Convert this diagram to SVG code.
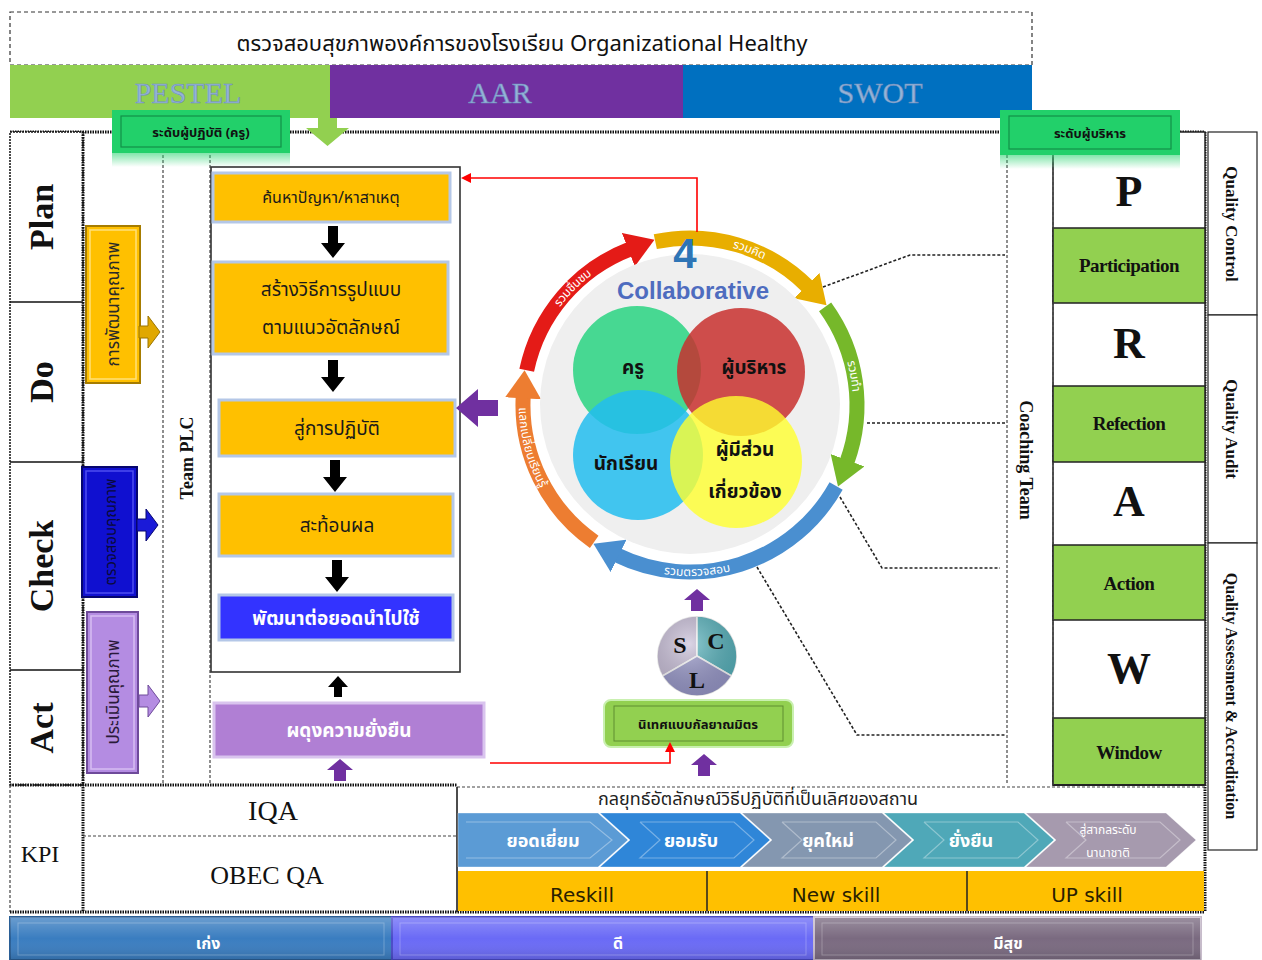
<svg xmlns="http://www.w3.org/2000/svg" width="1262" height="960" viewBox="0 0 1262 960">
<defs>
<style>
.th{font-family:"Noto Sans Thai","Leelawadee UI",Tahoma,"DejaVu Sans","Noto Sans",sans-serif}
.sans{font-family:"Liberation Sans",Arial,"Noto Sans Thai",sans-serif}
.sf{font-family:"Liberation Serif","Times New Roman",serif;font-weight:bold}
.dv{font-family:"DejaVu Sans",Verdana,sans-serif}
.thick{stroke:#111;stroke-width:3;stroke-dasharray:1.5 1;fill:none}
.dash{stroke:#444;stroke-width:1.2;stroke-dasharray:3 2;fill:none}
.conn{stroke:#222;stroke-width:1.6;stroke-dasharray:3 2;fill:none}
.ybox{fill:#FFC000;stroke:#B4C7E7;stroke-width:3}
.lbl{font-size:19px;text-anchor:middle;fill:#1a1a1a}
.wl{fill:#fff;font-weight:bold;text-anchor:middle}
.arc{fill:none;stroke-width:15}
.arclbl{font-size:12px;fill:#fff}
.praw{font-size:44px;text-anchor:middle}
.pgreen{fill:#92D050;stroke:#222;stroke-width:1.5}
.pword{font-size:19px;text-anchor:middle;letter-spacing:-0.5px}
.qtxt{font-size:17px;text-anchor:middle}
.chev{stroke:#fff;stroke-opacity:.35;stroke-width:1}
.chin{fill:none;stroke:#fff;stroke-opacity:.35;stroke-width:1.2}
.ctext{font-size:18px;fill:#fff;font-weight:bold;text-anchor:middle}
</style>
<marker id="mRed" markerUnits="userSpaceOnUse" markerWidth="30" markerHeight="36" refX="2" refY="18" orient="auto"><path d="M0,0 L28,18 L0,36 z" fill="#E41B17"/></marker>
<marker id="mGold" markerUnits="userSpaceOnUse" markerWidth="30" markerHeight="36" refX="2" refY="18" orient="auto"><path d="M0,0 L28,18 L0,36 z" fill="#E8AE00"/></marker>
<marker id="mGreen" markerUnits="userSpaceOnUse" markerWidth="30" markerHeight="36" refX="2" refY="18" orient="auto"><path d="M0,0 L28,18 L0,36 z" fill="#76B82A"/></marker>
<marker id="mBlue" markerUnits="userSpaceOnUse" markerWidth="30" markerHeight="36" refX="2" refY="18" orient="auto"><path d="M0,0 L28,18 L0,36 z" fill="#4A8FD0"/></marker>
<marker id="mOrange" markerUnits="userSpaceOnUse" markerWidth="30" markerHeight="36" refX="2" refY="18" orient="auto"><path d="M0,0 L28,18 L0,36 z" fill="#ED7D31"/></marker>
<marker id="mLine" markerUnits="userSpaceOnUse" markerWidth="10" markerHeight="10" refX="8" refY="5" orient="auto"><path d="M0,0 L10,5 L0,10 z" fill="#F00"/></marker>
<path id="tpRed" d="M531.2,353.4 A167,167 0 0 1 638.4,246.2"/>
<path id="tpGold" d="M672.5,238.9 A167,167 0 0 1 814.1,293.3"/>
<path id="tpGreen" d="M826.8,309.2 A167,167 0 0 1 851.3,448.2"/>
<path id="tpBlue" d="M606.5,549.6 A167,167 0 0 0 785.8,541.8"/>
<path id="tpOrange" d="M528.7,361.8 A167,167 0 0 0 571.9,523.1"/>
<path id="dArrow" d="M-5,0 H5 V17 H12 L0,32 L-12,17 H-5 Z"/>
<path id="uArrowP" d="M-6,22 H6 V11 H13 L0,0 L-13,11 H-6 Z"/>
<path id="rArrow" d="M0,-6 H9 V-16 L21,0 L9,16 V6 H0 Z"/>
<linearGradient id="gBand" x1="0" y1="0" x2="0" y2="1"><stop offset="0" stop-color="#fff" stop-opacity=".25"/><stop offset=".5" stop-color="#fff" stop-opacity="0"/><stop offset="1" stop-color="#000" stop-opacity=".15"/></linearGradient>
<linearGradient id="gFade" x1="0" y1="0" x2="0" y2="1"><stop offset="0" stop-color="#2ED573" stop-opacity=".6"/><stop offset="1" stop-color="#2ED573" stop-opacity="0"/></linearGradient>
<radialGradient id="gBall" cx=".4" cy=".35" r=".7"><stop offset="0" stop-color="#fff" stop-opacity=".35"/><stop offset="1" stop-color="#000" stop-opacity=".15"/></radialGradient>
</defs>

<rect width="1262" height="960" fill="#fff"/>

<!-- header -->
<g id="header">
<rect x="10" y="12" width="1022" height="53" fill="#fff" stroke="#333" stroke-width="1.2" stroke-dasharray="4 3"/>
<text x="522" y="51" class="th" font-size="22" text-anchor="middle" fill="#111">ตรวจสอบสุขภาพองค์การของโรงเรียน Organizational Healthy</text>
</g>
<g id="band">
<rect x="10" y="65" width="320" height="53" fill="#92D050"/>
<rect x="330" y="65" width="353" height="53" fill="#7030A0"/>
<rect x="683" y="65" width="349" height="53" fill="#0070C0"/>
<g class="sf" font-size="30" text-anchor="middle" fill="#95B3D7" stroke="#6F8FBF" stroke-width=".6">
<text x="188" y="103" style="font-weight:normal">PESTEL</text>
<text x="500" y="103" style="font-weight:normal">AAR</text>
<text x="880" y="103" style="font-weight:normal">SWOT</text>
</g>
</g>

<!-- frame lines -->
<g id="frame">
<line x1="10" y1="132" x2="1205" y2="132" class="thick"/>
<rect x="10" y="132" width="73" height="653" fill="#fff" stroke="#111" stroke-width="1.5" stroke-dasharray="2 1"/>
<line x1="10" y1="302" x2="83" y2="302" stroke="#111" stroke-width="1.5"/>
<line x1="10" y1="462" x2="83" y2="462" stroke="#111" stroke-width="1.5"/>
<line x1="10" y1="670" x2="83" y2="670" stroke="#111" stroke-width="1.5"/>
<line x1="83" y1="132" x2="83" y2="912" class="thick"/>
<line x1="163" y1="150" x2="163" y2="785" class="dash"/>
<line x1="210" y1="150" x2="210" y2="785" class="dash"/>
<line x1="1007" y1="150" x2="1007" y2="785" class="dash"/>
<line x1="1205" y1="132" x2="1205" y2="912" class="thick"/>
<line x1="10" y1="785" x2="457" y2="785" class="thick"/>
<line x1="457" y1="787" x2="1205" y2="787" class="dash" stroke-width="1.6"/>
<line x1="83" y1="836" x2="457" y2="836" class="dash" stroke-width="1.6"/>
<line x1="457" y1="787" x2="457" y2="912" stroke="#111" stroke-width="1.5"/>
<line x1="10" y1="785" x2="10" y2="912" class="dash" stroke-width="1.6"/>
<line x1="10" y1="912" x2="1205" y2="912" class="thick"/>
</g>

<!-- PDCA -->
<g id="pdca" class="sf" font-size="34" text-anchor="middle" fill="#111">
<text transform="translate(53,217) rotate(-90)">Plan</text>
<text transform="translate(53,382) rotate(-90)">Do</text>
<text transform="translate(53,566) rotate(-90)">Check</text>
<text transform="translate(53,728) rotate(-90)">Act</text>
</g>

<!-- left colored boxes -->
<g id="devBox">
<rect x="86" y="226" width="54" height="157" fill="#FFC000" stroke="#A67C00" stroke-width="2"/>
<rect x="90" y="230" width="46" height="149" fill="none" stroke="#FFE07A" stroke-width="1.5"/>
<text transform="translate(119,304) rotate(-90)" class="th" font-size="17" text-anchor="middle" fill="#2a2a2a">การพัฒนาคุณภาพ</text>
</g>
<g id="checkBox">
<rect x="82" y="467" width="55" height="130" fill="#1010D0" stroke="#06066E" stroke-width="2"/>
<rect x="86" y="471" width="47" height="122" fill="none" stroke="#4E4EF0" stroke-width="1.5"/>
<text transform="translate(116,532) rotate(-90)" class="th" font-size="15" text-anchor="middle" fill="#0a0a3a">ตรวจสอบคุณภาพ</text>
</g>
<g id="evalBox">
<rect x="87" y="612" width="51" height="161" fill="#B48CE2" stroke="#6E4A9A" stroke-width="2"/>
<rect x="91" y="616" width="43" height="153" fill="none" stroke="#D6BDF2" stroke-width="1.5"/>
<text transform="translate(119,692) rotate(-90)" class="th" font-size="17" text-anchor="middle" fill="#2a1a3a">ประเมินคุณภาพ</text>
</g>

<g id="teamPLC">
<text transform="translate(193,458) rotate(-90)" class="sf" font-size="18" text-anchor="middle" fill="#111">Team PLC</text>
</g>

<g id="lvlTeacher">
<rect x="112" y="153" width="178" height="14" fill="url(#gFade)"/>
<rect x="112" y="110" width="178" height="43" fill="#22D06A"/>
<rect x="121" y="116" width="160" height="31" fill="none" stroke="#139048" stroke-width="1.2"/>
<text x="201" y="137" class="th" font-size="13" font-weight="bold" text-anchor="middle" fill="#111">ระดับผู้ปฏิบัติ (ครู)</text>
</g>

<!-- flow box -->
<g id="flowFrame"><rect x="211" y="167" width="249" height="505" fill="#fff" stroke="#333" stroke-width="1.6"/></g>
<g id="step1"><rect x="213" y="173" width="237" height="49" class="ybox"/><text x="331" y="203" class="th lbl" style="font-size:16px">ค้นหาปัญหา/หาสาเหตุ</text></g>
<g id="step2"><rect x="213" y="262" width="235" height="92" class="ybox"/><text x="331" y="296" class="th lbl">สร้างวิธีการรูปแบบ</text><text x="331" y="334" class="th lbl">ตามแนวอัตลักษณ์</text></g>
<g id="step3"><rect x="219" y="400" width="236" height="56" class="ybox"/><text x="337" y="435" class="th lbl">สู่การปฏิบัติ</text></g>
<g id="step4"><rect x="219" y="494" width="234" height="62" class="ybox"/><text x="337" y="532" class="th lbl">สะท้อนผล</text></g>
<g id="step5"><rect x="219" y="595" width="234" height="45" fill="#3333FF" stroke="#B4C7E7" stroke-width="3"/><text x="336" y="625" class="th wl" font-size="19">พัฒนาต่อยอดนำไปใช้</text></g>
<g id="sustain"><rect x="214" y="703" width="270" height="54" fill="#B07FD4" stroke="#D9C4EE" stroke-width="3"/><text x="349" y="737" class="th wl" font-size="19">ผดุงความยั่งยืน</text></g>

<!-- ring -->
<g id="ring">
<path d="M526.7,370.3 A167,167 0 0 1 630.2,249.0" class="arc" stroke="#E41B17" marker-end="url(#mRed)"/>
<path d="M655.3,241.7 A167,167 0 0 1 808.1,286.9" class="arc" stroke="#E8AE00" marker-end="url(#mGold)"/>
<path d="M825.1,306.8 A167,167 0 0 1 846.9,462.1" class="arc" stroke="#76B82A" marker-end="url(#mGreen)"/>
<path d="M836.1,486.0 A167,167 0 0 1 616.8,555.1" class="arc" stroke="#4A8FD0" marker-end="url(#mBlue)"/>
<path d="M594.2,541.8 A167,167 0 0 1 523.2,396.3" class="arc" stroke="#ED7D31" marker-end="url(#mOrange)"/>
<g class="th arclbl">
<text dy="4"><textPath href="#tpRed" startOffset="50%" text-anchor="middle">รวมชื่นชม</textPath></text>
<text dy="4"><textPath href="#tpGold" startOffset="50%" text-anchor="middle">รวมคิด</textPath></text>
<text dy="4"><textPath href="#tpGreen" startOffset="50%" text-anchor="middle">รวมทำ</textPath></text>
<text dy="4"><textPath href="#tpBlue" startOffset="50%" text-anchor="middle">รวมตรวจสอบ</textPath></text>
<text dy="4"><textPath href="#tpOrange" startOffset="50%" text-anchor="middle">แลกเปลี่ยนเรียนรู้</textPath></text>
</g>
</g>

<!-- collaborative circle -->
<g id="collab">
<circle cx="690" cy="404" r="150" fill="#EFEFEF"/>
<circle cx="637" cy="370" r="64" fill="#3DD68C" opacity=".95"/>
<circle cx="741" cy="372" r="64" fill="#C8302E" opacity=".85"/>
<circle cx="638" cy="455" r="65" fill="#22BDEE" opacity=".85"/>
<circle cx="736" cy="462" r="66" fill="#FFFF2E" opacity=".8"/>
<text x="685" y="268" class="sans" font-size="42" font-weight="bold" text-anchor="middle" fill="#2E75B6">4</text>
<text x="693" y="299" class="sans" font-size="24" font-weight="bold" text-anchor="middle" fill="#4E6CBF">Collaborative</text>
<g class="th" font-size="19" font-weight="bold" text-anchor="middle" fill="#111">
<text x="633" y="374">ครู</text>
<text x="754" y="374">ผู้บริหาร</text>
<text x="626" y="470">นักเรียน</text>
<text x="745" y="456">ผู้มีส่วน</text>
<text x="745" y="498">เกี่ยวข้อง</text>
</g>
</g>

<!-- SCL -->
<g id="scl">
<path d="M697,656 L662.4,676 A40,40 0 0 1 697,616 Z" fill="#C8BED8" stroke="#fff" stroke-width="1.5"/>
<path d="M697,656 L697,616 A40,40 0 0 1 731.6,676 Z" fill="#58B4BE" stroke="#fff" stroke-width="1.5"/>
<path d="M697,656 L731.6,676 A40,40 0 0 1 662.4,676 Z" fill="#9A9ACC" stroke="#fff" stroke-width="1.5"/>
<circle cx="697" cy="656" r="40" fill="url(#gBall)"/>
<g class="sf" font-size="24" text-anchor="middle" fill="#111">
<text x="680" y="653">S</text><text x="716" y="649">C</text><text x="697" y="688">L</text>
</g>
</g>

<g id="supervise">
<rect x="604" y="700" width="189" height="47" rx="7" fill="#92D050" stroke="#C9F0B0" stroke-width="2"/>
<rect x="614" y="706" width="169" height="35" fill="none" stroke="#5E8E30" stroke-width="1"/>
<text x="698" y="729" class="th" font-size="13" font-weight="bold" text-anchor="middle" fill="#111">นิเทศแบบกัลยาณมิตร</text>
</g>

<!-- PRAW -->
<g id="praw">
<rect x="1053" y="132" width="152" height="653" fill="#fff" stroke="#222" stroke-width="1.5"/>
<rect x="1053" y="228" width="152" height="75" class="pgreen"/>
<rect x="1053" y="386" width="152" height="76" class="pgreen"/>
<rect x="1053" y="545" width="152" height="75" class="pgreen"/>
<rect x="1053" y="718" width="152" height="67" class="pgreen" stroke-width="0"/>
<line x1="1053" y1="785" x2="1205" y2="785" stroke="#222" stroke-width="2"/>
<line x1="1053" y1="132" x2="1053" y2="785" class="dash" stroke-width="2"/>
<g class="sf" fill="#111">
<text x="1129" y="206" class="praw">P</text>
<text x="1129" y="358" class="praw">R</text>
<text x="1129" y="516" class="praw">A</text>
<text x="1129" y="683" class="praw">W</text>
<text x="1129" y="272" class="pword">Participation</text>
<text x="1129" y="430" class="pword">Refection</text>
<text x="1129" y="590" class="pword">Action</text>
<text x="1129" y="759" class="pword">Window</text>
</g>
</g>

<g id="lvlAdmin">
<rect x="1000" y="155" width="180" height="14" fill="url(#gFade)"/>
<rect x="1000" y="110" width="180" height="45" fill="#22D06A"/>
<rect x="1009" y="116" width="162" height="33" fill="none" stroke="#139048" stroke-width="1.2"/>
<text x="1090" y="138" class="th" font-size="13" font-weight="bold" text-anchor="middle" fill="#111">ระดับผู้บริหาร</text>
</g>

<g id="quality">
<rect x="1208" y="132" width="49" height="183" fill="#fff" stroke="#222" stroke-width="1.2"/>
<rect x="1208" y="315" width="49" height="228" fill="#fff" stroke="#222" stroke-width="1.2"/>
<rect x="1208" y="543" width="49" height="307" fill="#fff" stroke="#222" stroke-width="1.2"/>
<g class="sf" fill="#111">
<text transform="translate(1226,224) rotate(90)" class="qtxt">Quality Control</text>
<text transform="translate(1226,429) rotate(90)" class="qtxt">Quality  Audit</text>
<text transform="translate(1226,696) rotate(90)" class="qtxt" style="font-size:16px">Quality Assessment &amp; Accreditation</text>
</g>
</g>

<g id="coaching">
<text transform="translate(1020,460) rotate(90)" class="sf" font-size="18" text-anchor="middle" fill="#111">Coaching Team</text>
</g>

<!-- KPI -->
<g id="kpi" class="sf" fill="#111" text-anchor="middle">
<text x="40" y="862" font-size="24" style="font-weight:normal">KPI</text>
<text x="273" y="820" font-size="28" style="font-weight:normal">IQA</text>
<text x="267" y="884" font-size="26" style="font-weight:normal">OBEC QA</text>
</g>

<g id="strategy">
<text x="758" y="805" class="th" font-size="18" text-anchor="middle" fill="#222">กลยุทธ์อัตลักษณ์วิธีปฏิบัติที่เป็นเลิศของสถาน</text>
<polygon points="458,813 598,813 628,840 598,867 458,867" fill="#5B9BD5" class="chev"/>
<polygon points="600,813 740,813 770,840 740,867 600,867 630,840" fill="#2F86D8" class="chev"/>
<polygon points="742,813 882,813 912,840 882,867 742,867 772,840" fill="#8497B0" class="chev"/>
<polygon points="884,813 1024,813 1054,840 1024,867 884,867 914,840" fill="#4FA8B8" class="chev"/>
<polygon points="1026,813 1166,813 1196,840 1166,867 1026,867 1056,840" fill="#A69AAE" class="chev"/>
<polyline points="466,822 590,822 612,840 590,858 466,858" class="chin"/>
<polyline points="640,822 734,822 754,840 734,858 640,858 660,840 640,822" class="chin"/>
<polyline points="782,822 876,822 896,840 876,858 782,858 802,840 782,822" class="chin"/>
<polyline points="924,822 1018,822 1038,840 1018,858 924,858 944,840 924,822" class="chin"/>
<polyline points="1066,822 1160,822 1180,840 1160,858 1066,858 1086,840 1066,822" class="chin"/>
<g class="th">
<text x="543" y="847" class="ctext">ยอดเยี่ยม</text>
<text x="691" y="847" class="ctext">ยอมรับ</text>
<text x="828" y="847" class="ctext">ยุคใหม่</text>
<text x="971" y="847" class="ctext">ยั่งยืน</text>
<text x="1108" y="834" class="ctext" style="font-size:12px;font-weight:normal">สู่สากลระดับ</text>
<text x="1108" y="857" class="ctext" style="font-size:12px;font-weight:normal">นานาชาติ</text>
</g>
<rect x="458" y="871" width="746" height="40" fill="#FFC000"/>
<line x1="707" y1="871" x2="707" y2="911" stroke="#222" stroke-width="1.5"/>
<line x1="967" y1="871" x2="967" y2="911" stroke="#222" stroke-width="1.5"/>
<g class="dv" font-size="20" text-anchor="middle" fill="#2a2000">
<text x="582" y="902">Reskill</text>
<text x="836" y="902">New skill</text>
<text x="1087" y="902">UP skill</text>
</g>
</g>

<!-- bottom bar -->
<g id="bottom">
<rect x="10" y="917" width="382" height="43" fill="#3A7DC0" stroke="#2A5F96" stroke-width="2"/>
<rect x="392" y="917" width="422" height="43" fill="#6A6AF6" stroke="#4A4AC8" stroke-width="2"/>
<rect x="814" y="917" width="387" height="43" fill="#7A6A80" stroke="#C7BCCB" stroke-width="2"/>
<rect x="10" y="917" width="1191" height="43" fill="url(#gBand)"/>
<rect x="18" y="923" width="366" height="32" fill="none" stroke="#fff" stroke-opacity=".25"/>
<rect x="400" y="923" width="406" height="32" fill="none" stroke="#fff" stroke-opacity=".25"/>
<rect x="822" y="923" width="371" height="32" fill="none" stroke="#fff" stroke-opacity=".25"/>
<g class="th" font-size="16" font-weight="bold" fill="#fff" text-anchor="middle">
<text x="208" y="949">เก่ง</text>
<text x="618" y="949">ดี</text>
<text x="1008" y="949">มีสุข</text>
</g>
</g>

<!-- connectors -->
<g id="connectors">
<path d="M318,118 H337 V128 H349 L327.5,146 L306,128 H318 Z" fill="#92D050"/>
<g fill="#000">
<use href="#dArrow" x="333" y="226"/>
<use href="#dArrow" x="333" y="360"/>
<use href="#dArrow" x="335" y="460"/>
<use href="#dArrow" x="337" y="560"/>
<path d="M334,697 V687 H328 L338,676 L348,687 H342 V697 Z"/>
</g>
<g fill="#7030A0">
<use href="#uArrowP" x="340" y="759"/>
<use href="#uArrowP" x="697" y="589"/>
<use href="#uArrowP" x="704" y="754"/>
<path d="M456,408 L478,389 V400 H498 V416 H478 V427 Z"/>
</g>
<use href="#rArrow" x="139" y="332" fill="#E0A800" stroke="#9A7400" stroke-width="1"/>
<use href="#rArrow" x="137" y="525" fill="#1A1AD8" stroke="#06066E" stroke-width="1"/>
<use href="#rArrow" x="139" y="701" fill="#B48CE2" stroke="#6E4A9A" stroke-width="1"/>
<path d="M697,232 V178 H463" fill="none" stroke="#F00" stroke-width="1.6" marker-end="url(#mLine)"/>
<path d="M490,763 H670 V744" fill="none" stroke="#F00" stroke-width="1.6" marker-end="url(#mLine)"/>
<path d="M823,287 L910,255 H1005" class="conn"/>
<path d="M867,423 H1005" class="conn"/>
<path d="M840,497 L882,568 H1000" class="conn"/>
<path d="M757,567 L857,735 H1005" class="conn"/>
</g>
</svg>
